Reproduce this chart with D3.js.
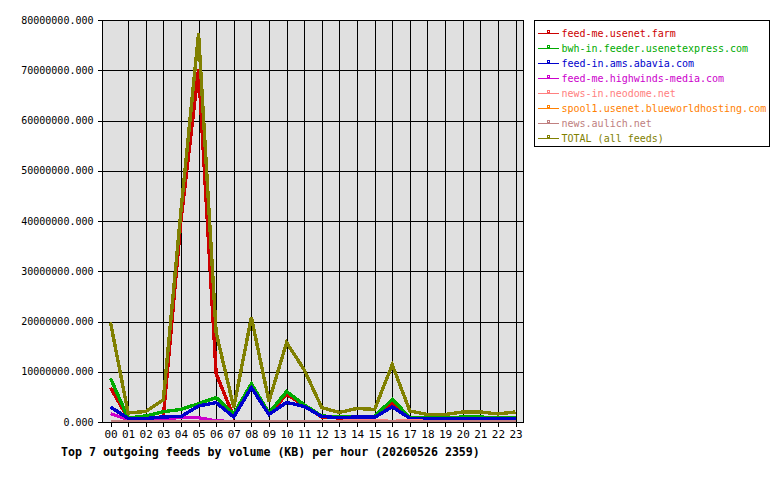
<!DOCTYPE html>
<html><head><meta charset="utf-8">
<script src="https://cdn.jsdelivr.net/npm/d3@7"></script>
<style>body{margin:0;background:#fff}svg{display:block}text{font-family:"DejaVu Sans Mono",monospace}</style>
</head><body><svg id="c" width="780" height="480"></svg>
<script>
const hours = ["00","01","02","03","04","05","06","07","08","09","10","11","12","13","14","15","16","17","18","19","20","21","22","23"];
const yTicks = [0,10e6,20e6,30e6,40e6,50e6,60e6,70e6,80e6];
const titleText = "Top 7 outgoing feeds by volume (KB) per hour (20260526 2359)";
const feedNames = ["feed-me.usenet.farm","bwh-in.feeder.usenetexpress.com","feed-in.ams.abavia.com","feed-me.highwinds-media.com","news-in.neodome.net","spool1.usenet.blueworldhosting.com","news.aulich.net","TOTAL (all feeds)"];
const feedColors = ["#cc0000","#00aa00","#0000cc","#cc00cc","#ff8080","#ff8000","#c08080","#808000"];
// values in KB (millions)
const usenetFarm   = [6.85,0.7,0.8,1.0,40,70.2,9.6,1.0,7.2,1.5,5.5,3.3,1.0,0.8,0.9,0.9,3.65,0.7,0.6,0.6,0.6,0.6,0.6,0.6];
const usenetExpress= [8.7,0.8,1.2,2.05,2.5,3.65,4.85,1.6,7.6,1.8,6.05,3.4,1.2,1.0,1.0,1.1,4.5,0.9,0.8,0.8,1.0,1.0,0.8,0.8];
const abavia       = [3.0,0.7,0.7,1.0,1.1,3.2,3.85,1.0,6.85,1.5,3.9,3.1,1.1,0.85,1.0,0.95,3.0,0.75,0.65,0.65,0.65,0.65,0.65,0.65];
const highwinds    = [1.65,0.5,0.45,0.65,0.9,0.85,0.2,0.1,0.1,0.1,0.1,0.1,0.1,0.1,0.1,0.1,0.1,0.1,0.1,0.1,0.1,0.1,0.1,0.1];
const neodome      = [0.1,0.1,0.1,0.1,0.1,0.1,0.1,0.1,0.1,0.1,0.1,0.1,0.1,0.1,0.35,0.35,0.1,0.35,0.1,0.1,0.1,0.1,0.1,0.1];
const blueworld    = [0.05,0.05,0.05,0.05,0.05,0.05,0.05,0.05,0.05,0.05,0.05,0.05,0.05,0.05,0.05,0.05,0.05,0.05,0.05,0.05,0.05,0.05,0.05,0.05];
const aulich       = [0.05,0.05,0.05,0.05,0.05,0.05,0.05,0.05,0.05,0.05,0.05,0.05,0.05,0.05,0.05,0.05,0.05,0.05,0.05,0.05,0.05,0.05,0.05,0.05];
const total        = [19.8,1.8,2.1,4.4,42,77.3,17.8,2.9,20.8,4.1,15.8,10.4,2.85,1.9,2.7,2.5,11.4,2.2,1.5,1.5,2.0,2.0,1.6,2.0];
const seriesValues = [usenetFarm,usenetExpress,abavia,highwinds,neodome,blueworld,aulich,total];
const drawOrder = [0,1,3,2,4,5,6,7];

const svg = d3.select("#c");
const L=102.5, R=523.5, T=20.5, B=422.5;
const x = d3.scalePoint().domain(hours).range([110.5,515.5]);
const y = d3.scaleLinear().domain([0,80e6]).range([422,20]);

svg.append("rect").attr("x",L).attr("y",T).attr("width",R-L).attr("height",B-T).attr("fill","#e0e0e0");
const g = svg.append("g");
g.selectAll(".hg").data(yTicks.slice(1,-1)).enter().append("line")
  .attr("x1",L).attr("x2",R).attr("y1",d=>Math.round(y(d))+0.5).attr("y2",d=>Math.round(y(d))+0.5)
  .attr("stroke","#000").attr("shape-rendering","crispEdges");
g.selectAll(".vg").data(hours.slice(1)).enter().append("line")
  .attr("x1",d=>Math.round(x(d))+0.5).attr("x2",d=>Math.round(x(d))+0.5).attr("y1",T).attr("y2",B)
  .attr("stroke","#000").attr("shape-rendering","crispEdges");

const line = d3.line().x((d,i)=>x(hours[i])).y(d=>y(d*1e6));
drawOrder.forEach(k=>{
  svg.append("path").datum(seriesValues[k]).attr("d",line).attr("fill","none")
    .attr("stroke",feedColors[k]).attr("stroke-width",3.4).attr("stroke-linejoin","miter")
    .attr("shape-rendering","crispEdges");
});

svg.append("rect").attr("x",L).attr("y",T).attr("width",R-L).attr("height",B-T).attr("fill","none").attr("stroke","#000").attr("shape-rendering","crispEdges");

const yAxis = d3.axisLeft(y).tickValues(yTicks).tickSize(5).tickPadding(4).tickFormat(d=>d3.format(".3f")(d));
const ya = svg.append("g").attr("transform",`translate(${L},0)`).call(yAxis);
ya.select(".domain").remove();
ya.selectAll("line").attr("stroke","#000").attr("shape-rendering","crispEdges");
ya.selectAll("text").attr("font-family","DejaVu Sans Mono").attr("font-size",10).attr("fill","#000");
const xAxis = d3.axisBottom(x).tickSize(4).tickPadding(4);
const xa = svg.append("g").attr("transform",`translate(0,${B})`).call(xAxis);
xa.select(".domain").remove();
xa.selectAll("line").attr("stroke","#000").attr("shape-rendering","crispEdges");
xa.selectAll("text").attr("font-family","DejaVu Sans Mono").attr("font-size",11).attr("fill","#000");

svg.append("text").attr("x",61).attr("y",456).attr("font-size",11.6).attr("font-weight","bold").attr("fill","#000").text(titleText);

const lg = svg.append("g");
lg.append("rect").attr("x",534.5).attr("y",20.5).attr("width",235).attr("height",126).attr("fill","#fff").attr("stroke","#000").attr("shape-rendering","crispEdges");
feedNames.forEach((n,i)=>{
  const yy = 33 + i*15;
  lg.append("rect").attr("x",538).attr("y",yy).attr("width",21).attr("height",1).attr("fill",feedColors[i]);
  lg.append("rect").attr("x",547).attr("y",yy-3).attr("width",3).attr("height",3).attr("fill",feedColors[i]);
  lg.append("rect").attr("x",548).attr("y",yy-2).attr("width",1).attr("height",1).attr("fill","#fff");
  lg.append("text").attr("x",561.5).attr("y",yy+4).attr("font-size",10).attr("fill",feedColors[i]).text(n);
});
</script></body></html>
